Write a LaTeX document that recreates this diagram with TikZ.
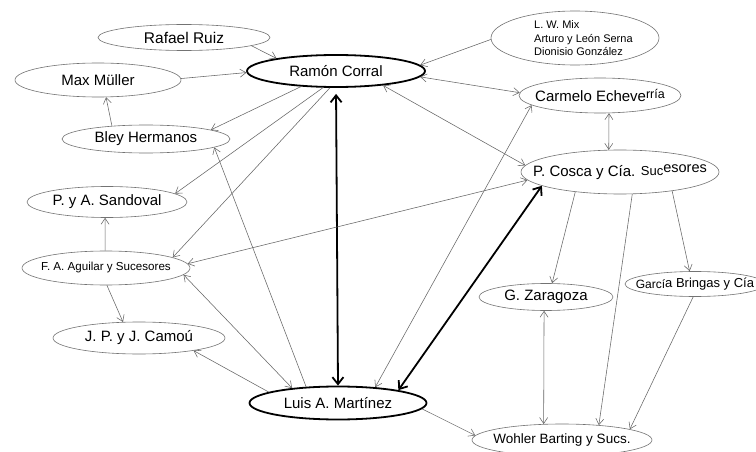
\documentclass[tikz,border=0pt]{standalone}
\usepackage{fontspec}
\setmainfont{Liberation Sans}
\usetikzlibrary{shapes.geometric,arrows.meta}
\begin{document}
\begin{tikzpicture}[x=1pt,y=-1pt,
  every node/.style={inner sep=0pt},
  ell/.style={ellipse, draw=black!55, line width=0.6pt, inner xsep=-25pt, inner ysep=0pt, font=\fontsize{15}{18}\selectfont},
  bell/.style={ellipse, draw=black, line width=1.8pt, inner xsep=-25pt, inner ysep=0pt, font=\fontsize{15}{18}\selectfont},
  link/.style={draw=black!60, line width=0.55pt},
  fw/.style={link, -{Straight Barb[length=6pt,width=8pt]}},
  bw/.style={link, {Straight Barb[length=6pt,width=8pt]}-{Straight Barb[length=6pt,width=8pt]}},
  heavy/.style={draw=black, line width=1.8pt, {Straight Barb[length=7pt,width=11pt]}-{Straight Barb[length=7pt,width=11pt]}},
]
\fill[white] (0,0) rectangle (756,452);
\useasboundingbox (0,0) rectangle (756,452);

\node[ell, minimum width=172pt, minimum height=26pt, font=\fontsize{15.5}{18}\selectfont] (rr) at (184,37.5) {Rafael Ruiz};
\node[bell, minimum width=178pt, minimum height=32pt] (rc) at (336,71) {Ramón Corral};
\node[ell, minimum width=166pt, minimum height=34pt] (mm) at (98,80) {Max Müller};
\node[ell, minimum width=168pt, minimum height=28pt] (bh) at (146,139) {Bley Hermanos};
\node[ell, minimum width=160pt, minimum height=31pt] (ps) at (107,202) {P. y A. Sandoval};
\node[ell, minimum width=168pt, minimum height=34pt, font=\fontsize{11.6}{14}\selectfont] (fa) at (106,268) {F. A. Aguilar y Sucesores};
\node[ell, minimum width=172pt, minimum height=32pt] (jc) at (139,338) {J. P. y J. Camoú};
\node[bell, minimum width=177pt, minimum height=33pt] (lam) at (338,403) {Luis A. Martínez};
\node[ell, minimum width=168pt, minimum height=54pt] (lm) at (575,38) {};
\node[align=left, font=\fontsize{11}{13.5}\selectfont, anchor=west] (lmt) at (534,38.5) {L. W. Mix\\Arturo y León Serna\\Dionisio González};
\node[ell, minimum width=162pt, minimum height=35pt] (ce) at (600,95.5) {Carmelo Echeve\raisebox{2.5pt}{\fontsize{12.5}{13}\selectfont rría}};
\node[ell, minimum width=198pt, minimum height=44pt] (pc) at (620,172) {P. Cosca y Cía. \raisebox{1pt}{\fontsize{13}{13}\selectfont Suc}\raisebox{3.5pt}{\fontsize{14.5}{15}\selectfont esores}};
\node[ell, minimum width=134pt, minimum height=27pt] (gz) at (546,297) {G. Zaragoza};
\node[ell, minimum width=140pt, minimum height=25pt, font=\fontsize{13}{15}\selectfont] (gb) at (695,284) {\raisebox{-1pt}{\fontsize{12}{12}\selectfont Garcí}a Bringas y Cía};
\node[ell, minimum width=180pt, minimum height=32pt, font=\fontsize{13.5}{16}\selectfont] (wb) at (562,440) {Wohler Barting y Sucs.};

\draw[fw] (rr.353) -- (rc.168);
\draw[fw] (mm.1) -- (rc.181);
\draw[fw] (bh.159) -- (mm.295);
\draw[fw] (rc.204) -- (bh.8);
\draw[fw] (rc.232) -- (ps.7);
\draw[fw] (rc.250) -- (fa.9);
\draw[fw] (fa.93) -- (ps.263);
\draw[fw] (fa.273) -- (jc.135);
\draw[fw] (lam.153) -- (bh.353);
\draw[bw] (fa.355) -- (lam.162);
\draw[fw] (lam.171) -- (jc.347);
\draw[heavy, shorten <=6pt] (rc.south) -- (lam.north);
\draw[fw] (lm.181) -- (rc.4);
\draw[bw] (rc.356) -- (ce.178);
\draw[bw] (rc.343) -- (pc.176);
\draw[bw] (ce.297) -- (pc.117);
\draw[bw] (fa.3) -- (pc.185);
\draw[bw] (lam.23) -- (ce.188);
\draw[heavy] (lam.12) -- (pc.190);
\draw[fw] (pc.204) -- (gz.66);
\draw[fw] (pc.299) -- (wb.22);
\draw[fw] (pc.340) -- (gb.113);
\draw[bw] (gz.262) -- (wb.139);
\draw[fw] (gb.262) -- (wb.9);
\draw[fw] (lam.356) -- (wb.177);
\end{tikzpicture}
\end{document}
